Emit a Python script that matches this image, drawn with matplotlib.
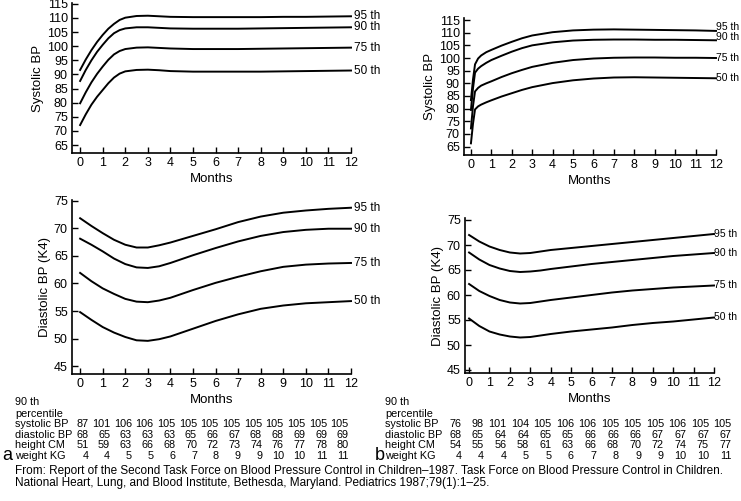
import matplotlib
matplotlib.use('Agg')
import matplotlib.pyplot as plt

plt.rcParams['font.family'] = ['Liberation Sans', 'DejaVu Sans']

# percentile curves
pct_names = ['95 th', '90 th', '75 th', '50 th']

# panel a, systolic
a_sys_months = [0, 0.25, 0.5, 0.75, 1, 1.25, 1.5, 1.75, 2, 2.5, 3, 3.5, 4, 5, 6, 7, 8, 9, 10, 11, 12]
a_sys_95 = [91.6, 95.3, 98.6, 101.5, 104.0, 106.2, 107.9, 109.3, 110.1, 110.7, 110.8, 110.6, 110.4, 110.3, 110.3, 110.3, 110.3, 110.4, 110.4, 110.5, 110.6]
a_sys_90 = [87.7, 91.6, 95.0, 98.0, 100.5, 102.8, 104.6, 105.7, 106.3, 106.7, 106.7, 106.5, 106.3, 106.2, 106.2, 106.2, 106.3, 106.4, 106.5, 106.6, 106.7]
a_sys_75 = [79.8, 83.7, 87.2, 90.2, 92.8, 95.2, 97.1, 98.3, 99.0, 99.5, 99.6, 99.4, 99.2, 99.0, 99.0, 99.0, 99.1, 99.2, 99.3, 99.4, 99.5]
a_sys_50 = [72.1, 75.9, 79.3, 82.1, 84.5, 86.9, 88.9, 90.3, 91.1, 91.6, 91.7, 91.5, 91.2, 91.0, 91.0, 91.0, 91.0, 91.1, 91.2, 91.3, 91.4]

# panel a, diastolic
a_dia_months = [0, 0.5, 1, 1.5, 2, 2.5, 3, 3.5, 4, 5, 6, 7, 8, 9, 10, 11, 12]
a_dia_95 = [71.8, 70.4, 69.1, 67.9, 67.0, 66.5, 66.5, 66.9, 67.4, 68.6, 69.8, 71.1, 72.1, 72.8, 73.2, 73.5, 73.7]
a_dia_90 = [68.1, 67.0, 65.8, 64.5, 63.5, 62.9, 62.8, 63.1, 63.7, 65.1, 66.4, 67.6, 68.6, 69.3, 69.7, 69.9, 69.9]
a_dia_75 = [61.9, 60.4, 59.1, 58.1, 57.2, 56.7, 56.6, 56.9, 57.4, 58.8, 60.1, 61.2, 62.2, 63.0, 63.4, 63.6, 63.7]
a_dia_50 = [54.8, 53.4, 52.1, 51.1, 50.3, 49.7, 49.6, 49.9, 50.4, 51.8, 53.2, 54.4, 55.4, 56.0, 56.4, 56.6, 56.8]

# panel b, systolic
b_sys_months = [0, 0.1, 0.2, 0.35, 0.5, 0.75, 1, 1.5, 2, 2.5, 3, 4, 5, 6, 7, 8, 9, 10, 11, 12]
b_sys_95 = [83.4, 91.5, 97.5, 99.8, 101.0, 102.3, 103.2, 104.9, 106.4, 107.8, 108.9, 110.2, 110.9, 111.2, 111.3, 111.2, 111.1, 111.0, 110.9, 110.7]
b_sys_90 = [79.5, 88.0, 94.2, 95.8, 96.8, 98.1, 99.2, 100.9, 102.5, 103.9, 105.0, 106.2, 106.9, 107.2, 107.3, 107.3, 107.2, 107.2, 107.1, 107.0]
b_sys_75 = [72.2, 81.0, 86.8, 88.2, 89.1, 90.0, 90.8, 92.5, 94.0, 95.3, 96.5, 98.1, 99.2, 99.8, 100.1, 100.2, 100.2, 100.1, 100.1, 100.0]
b_sys_50 = [66.3, 74.0, 79.7, 80.9, 81.6, 82.5, 83.3, 84.8, 86.1, 87.4, 88.5, 90.1, 91.2, 91.9, 92.3, 92.4, 92.3, 92.2, 92.1, 92.0]

# panel b, diastolic
b_dia_months = [0, 0.5, 1, 1.5, 2, 2.5, 3, 3.5, 4, 5, 6, 7, 8, 9, 10, 11, 12]
b_dia_95 = [72.0, 70.7, 69.7, 69.0, 68.5, 68.3, 68.4, 68.7, 69.0, 69.4, 69.8, 70.2, 70.6, 71.0, 71.4, 71.8, 72.2]
b_dia_90 = [68.5, 67.1, 66.0, 65.3, 64.8, 64.6, 64.7, 64.9, 65.2, 65.7, 66.2, 66.6, 67.0, 67.4, 67.8, 68.1, 68.4]
b_dia_75 = [62.2, 60.8, 59.8, 59.0, 58.5, 58.3, 58.4, 58.7, 59.0, 59.5, 60.0, 60.5, 60.9, 61.2, 61.5, 61.7, 61.9]
b_dia_50 = [55.3, 53.8, 52.7, 52.1, 51.7, 51.5, 51.6, 51.9, 52.2, 52.7, 53.1, 53.5, 54.0, 54.4, 54.7, 55.1, 55.5]

# 90th percentile tables under each panel
row_names = ['systolic BP', 'diastolic BP', 'height CM', 'weight KG']
a_table = [
    [87, 101, 106, 106, 105, 105, 105, 105, 105, 105, 105, 105, 105],
    [68, 65, 63, 63, 63, 65, 66, 67, 68, 68, 69, 69, 69],
    [51, 59, 63, 66, 68, 70, 72, 73, 74, 76, 77, 78, 80],
    [4, 4, 5, 5, 6, 7, 8, 9, 9, 10, 10, 11, 11],
]
b_table = [
    [76, 98, 101, 104, 105, 106, 106, 105, 105, 105, 106, 105, 105],
    [68, 65, 64, 64, 65, 65, 66, 66, 66, 67, 67, 67, 67],
    [54, 55, 56, 58, 61, 63, 66, 68, 70, 72, 74, 75, 77],
    [4, 4, 4, 5, 5, 6, 7, 8, 9, 9, 10, 10, 11],
]

W, H = 741, 501
fig = plt.figure(figsize=(W / 100, H / 100), dpi=100)


def px_axes(left, top, right, bottom):
    # axes placed by pixel box of the reference
    return fig.add_axes([left / W, 1 - bottom / H, (right - left) / W, (bottom - top) / H])


def panel(ax, months, curves, yticks, ylim, xlim, ylabel, label_dx=0.12, label_y=None, label_fs=8.5):
    for k, (vals, name) in enumerate(zip(curves, pct_names)):
        ax.plot(months, vals, color='black', lw=1.4, clip_on=False)
        ly = vals[-1] if label_y is None else label_y[k]
        ax.text(12 + label_dx, ly, name, fontsize=label_fs, va='center', ha='left')
    ax.set_xlim(*xlim)
    ax.set_ylim(*ylim)
    ax.set_xticks(range(13))
    ax.set_yticks(yticks)
    ax.tick_params(direction='in', length=4, width=1, labelsize=9, pad=3)
    for s in ['top', 'right']:
        ax.spines[s].set_visible(False)
    for s in ['left', 'bottom']:
        ax.spines[s].set_linewidth(1.2)
    ax.set_xlabel('Months', fontsize=9.5, labelpad=3)
    ax.set_ylabel(ylabel, fontsize=9.5, labelpad=2)


ax1 = px_axes(72, 3, 351, 153)
panel(ax1, a_sys_months, [a_sys_95, a_sys_90, a_sys_75, a_sys_50],
      range(65, 116, 5), (62.2, 115.3), (-0.36, 12), 'Systolic BP')

ax2 = px_axes(72, 200, 351, 374)
panel(ax2, a_dia_months, [a_dia_95, a_dia_90, a_dia_75, a_dia_50],
      range(45, 76, 5), (43.6, 75.1), (-0.36, 12), 'Diastolic BP (K4)')

ax3 = px_axes(464, 18, 716, 155)
panel(ax3, b_sys_months, [b_sys_95, b_sys_90, b_sys_75, b_sys_50],
      range(65, 116, 5), (61.7, 115.8), (-0.34, 12), 'Systolic BP',
      label_dx=0.02, label_y=[112.3, 108.4, 100.1, 92.0], label_fs=7.5)

ax4 = px_axes(465, 218, 714, 373)
panel(ax4, b_dia_months, [b_dia_95, b_dia_90, b_dia_75, b_dia_50],
      range(45, 76, 5), (44.4, 75.4), (-0.2, 12), 'Diastolic BP (K4)',
      label_dx=0.02, label_fs=7.5)


def table(x_label, x_first, step, rows, letter, x_letter):
    fs = 7.8
    fig.text(x_label / W, 1 - 402 / H, '90 th', fontsize=fs, va='center')
    fig.text(x_label / W, 1 - 414 / H, 'percentile', fontsize=fs, va='center')
    for r, (name, vals) in enumerate(zip(row_names, rows)):
        y = 1 - (424 + 10.7 * r) / H
        fig.text(x_label / W, y, name, fontsize=fs, va='center')
        for i, v in enumerate(vals):
            fig.text((x_first + step * i) / W, y, str(v), fontsize=fs, va='center', ha='right')
    fig.text(x_letter / W, 1 - 456 / H, letter, fontsize=13, va='center')


table(15, 88.5, 21.7, a_table, 'a', 2)
table(385, 461.5, 22.5, b_table, 'b', 375)

fig.text(15 / W, 1 - 471 / H,
         'From: Report of the Second Task Force on Blood Pressure Control in Children\u20131987. '
         'Task Force on Blood Pressure Control in Children.', fontsize=8.5, va='center')
fig.text(15 / W, 1 - 483 / H,
         'National Heart, Lung, and Blood Institute, Bethesda, Maryland. Pediatrics 1987;79(1):1\u201325.',
         fontsize=8.5, va='center')

fig.savefig('out.png', dpi=100)
